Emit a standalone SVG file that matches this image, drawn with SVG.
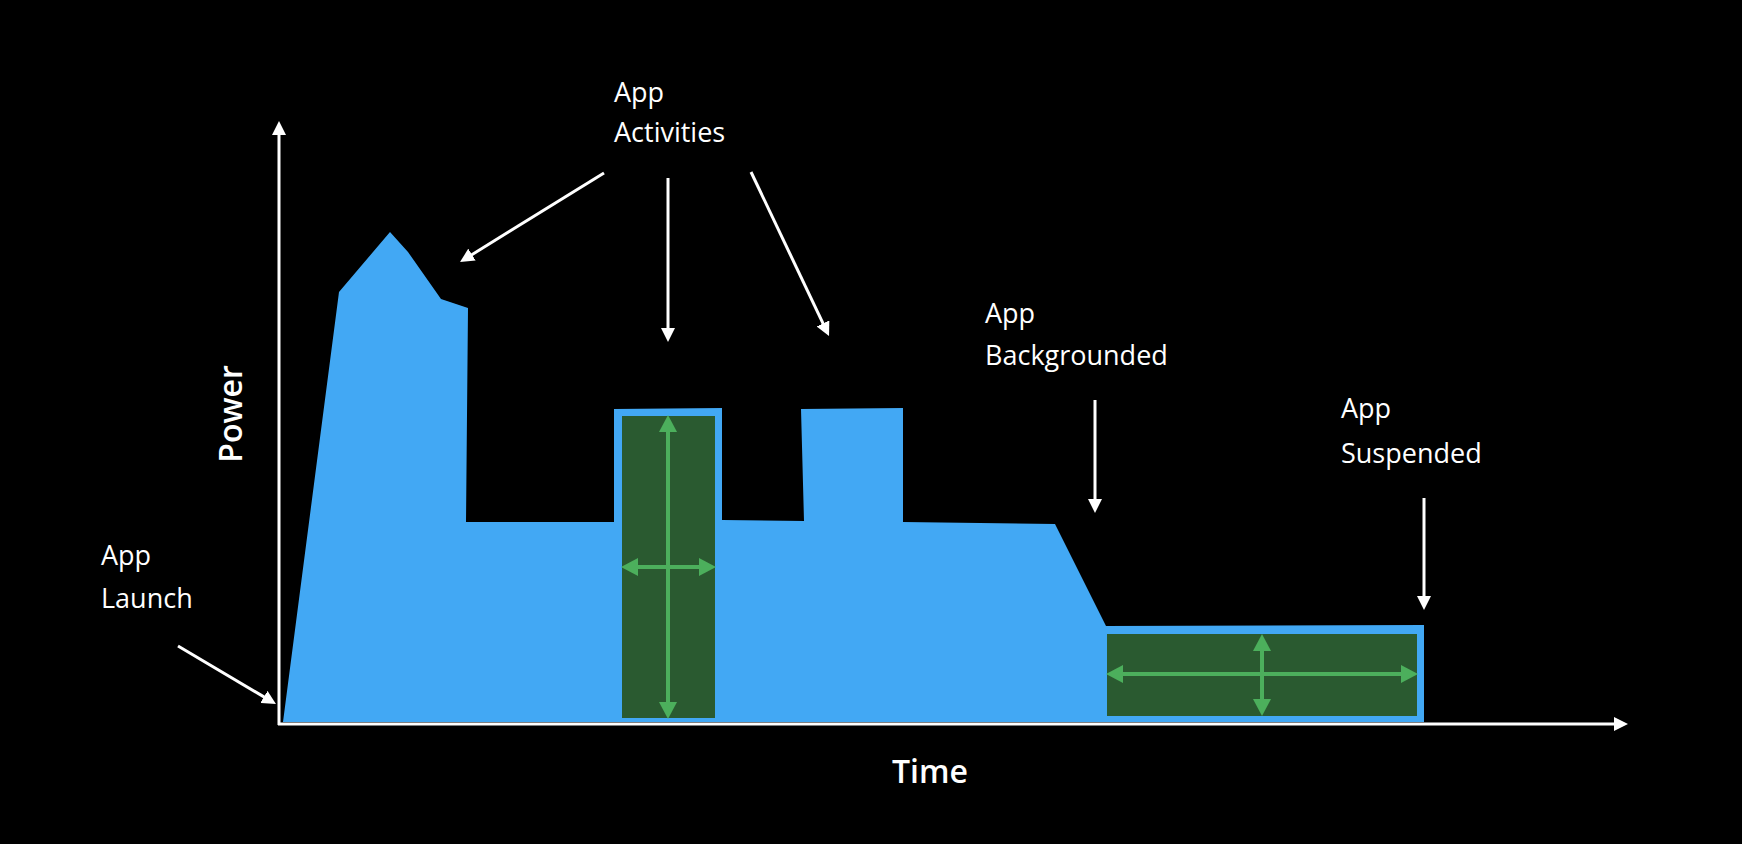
<svg xmlns="http://www.w3.org/2000/svg" width="1742" height="844" viewBox="0 0 1742 844">
<defs>
<style>
.lbl{font-family:"Open Sans","Liberation Sans",Arial,sans-serif;font-size:27px;fill:#ffffff}
.axl{font-family:"Open Sans","Liberation Sans",Arial,sans-serif;font-size:32px;font-weight:600;fill:#ffffff}
.wa{stroke:#ffffff;stroke-width:3;fill:none}
.ga{stroke:#4caf5c;stroke-width:4;fill:none}
.gbox{fill:#2a5a30}
</style>
<marker id="wh" markerUnits="userSpaceOnUse" markerWidth="14" markerHeight="14" refX="3" refY="7" orient="auto">
<path d="M0,0 L14,7 L0,14 z" fill="#ffffff"/>
</marker>
<marker id="gh" markerUnits="userSpaceOnUse" markerWidth="17" markerHeight="18" refX="4" refY="9" orient="auto-start-reverse">
<path d="M0,0 L17,9 L0,18 z" fill="#4caf5c"/>
</marker>
</defs>
<rect x="0" y="0" width="1742" height="844" fill="#000000"/>
<g id="power-curve">
<polygon fill="#42a8f4" points="283,722 339,292 390,232 408,252 441,299 468,308 466,522 614,522 614,409 722,408 722,520 804,521 801,409 903,408 903,522 1055,524 1106,626 1424,625 1424,722"/>
</g>
<g id="active-box">
<rect class="gbox" x="622" y="416" width="93" height="302"/>
<line class="ga" x1="668" y1="428" x2="668" y2="706" marker-start="url(#gh)" marker-end="url(#gh)"/>
<line class="ga" x1="634" y1="567" x2="703" y2="567" marker-start="url(#gh)" marker-end="url(#gh)"/>
</g>
<g id="background-box">
<rect class="gbox" x="1107" y="634" width="310" height="82"/>
<line class="ga" x1="1119" y1="674" x2="1405" y2="674" marker-start="url(#gh)" marker-end="url(#gh)"/>
<line class="ga" x1="1262" y1="647" x2="1262" y2="703" marker-start="url(#gh)" marker-end="url(#gh)"/>
</g>
<g id="axes">
<line class="wa" x1="279" y1="725" x2="279" y2="132" marker-end="url(#wh)"/>
<line class="wa" x1="278" y1="724" x2="1617" y2="724" marker-end="url(#wh)"/>
<text class="axl" transform="translate(242,414) rotate(-90)" text-anchor="middle">Power</text>
<text class="axl" x="930" y="783" text-anchor="middle">Time</text>
</g>
<g id="connectors">
<line class="wa" x1="178" y1="646" x2="266.5" y2="698.4" marker-end="url(#wh)"/>
<line class="wa" x1="604" y1="173" x2="469.4" y2="256.2" marker-end="url(#wh)"/>
<line class="wa" x1="668" y1="178" x2="668" y2="331" marker-end="url(#wh)"/>
<line class="wa" x1="751" y1="172" x2="824.3" y2="326.1" marker-end="url(#wh)"/>
<line class="wa" x1="1095" y1="400" x2="1095" y2="502" marker-end="url(#wh)"/>
<line class="wa" x1="1424" y1="498" x2="1424" y2="599" marker-end="url(#wh)"/>
</g>
<g id="label-launch">
<text class="lbl" x="101" y="565">App</text>
<text class="lbl" x="101" y="608">Launch</text>
</g>
<g id="label-activities">
<text class="lbl" x="614" y="102">App</text>
<text class="lbl" x="614" y="142">Activities</text>
</g>
<g id="label-backgrounded">
<text class="lbl" x="985" y="323">App</text>
<text class="lbl" x="985" y="365">Backgrounded</text>
</g>
<g id="label-suspended">
<text class="lbl" x="1341" y="418">App</text>
<text class="lbl" x="1341" y="463">Suspended</text>
</g>
</svg>
